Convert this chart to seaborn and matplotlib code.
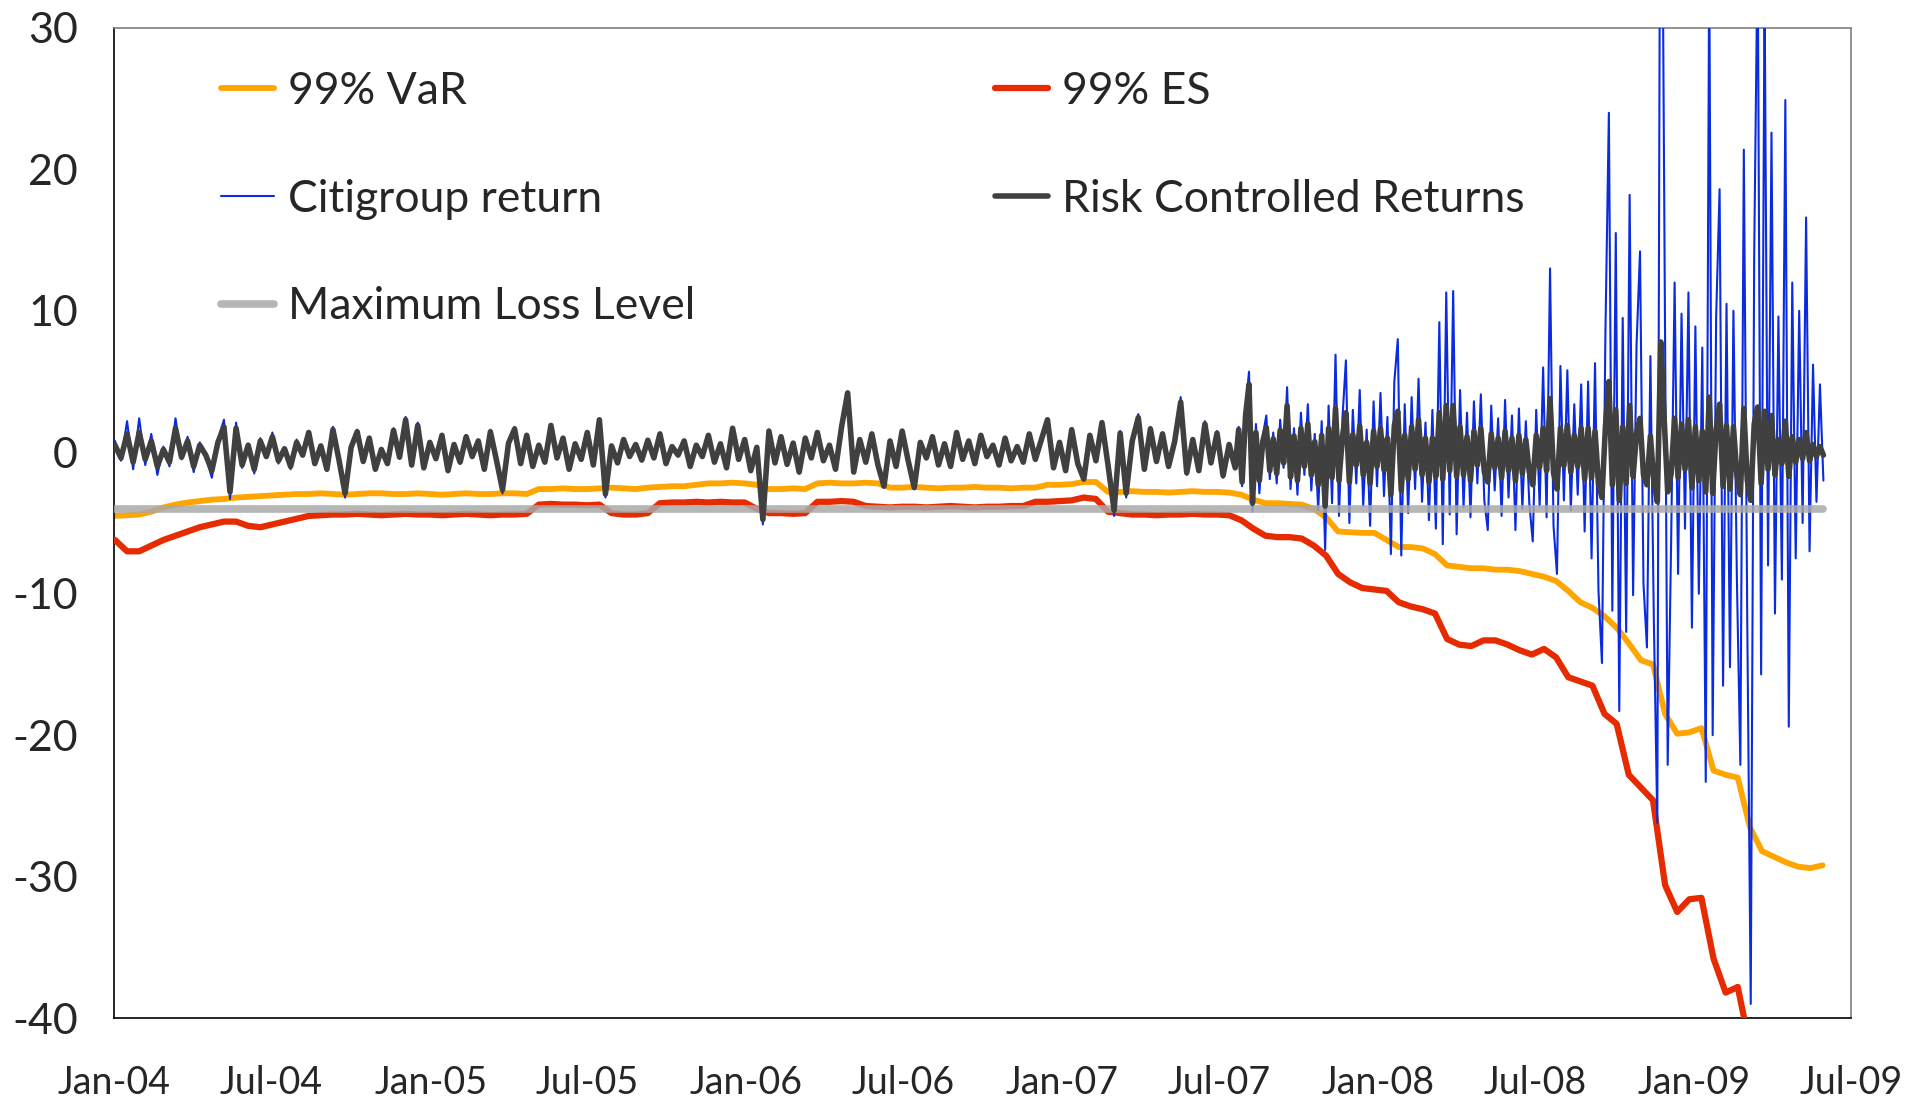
import matplotlib
matplotlib.use("Agg")
import matplotlib.pyplot as plt
import matplotlib.dates as mdates
import pandas as pd
import seaborn as sns

# weekly returns until late Jul-07, then every 4 days through the crisis
calm_dates = pd.date_range('2004-01-02', periods=186, freq='7D')
crisis_dates = pd.date_range('2007-07-24', periods=170, freq='4D')
return_dates = calm_dates.append(crisis_dates)

citi_calm = [
    0.8, -0.6, 2.2, -1.2, 2.4, -0.9, 1.3, -1.6, 0.4, -1.0,
    2.4, -0.5, 1.1, -1.4, 0.7, -0.3, -1.8, 0.9, 2.3, -3.3,
    2.1, -1.1, 0.6, -1.5, 1.0, -0.4, 1.4, -0.8, 0.3, -1.2,
    0.9, -0.2, 1.5, -0.9, 0.5, -1.3, 1.8, -0.6, -3.2, 0.4,
    1.6, -0.7, 1.1, -1.3, 0.2, -0.9, 1.7, -0.4, 2.5, -1.0,
    2.1, -1.2, 0.8, -0.5, 1.3, -1.4, 0.6, -0.8, 1.2, -0.3,
    0.9, -1.3, 1.6, -0.6, -2.9, 0.7, 1.8, -0.9, 1.3, -1.1,
    0.5, -0.7, 1.9, -0.4, 1.0, -1.2, 0.6, -0.5, 1.4, -0.9,
    2.3, -3.2, 0.5, -0.8, 1.0, -0.3, 0.6, -0.6, 0.9, -0.4,
    1.3, -0.8, 0.4, -0.2, 0.8, -1.0, 0.5, -0.3, 1.2, -0.7,
    0.6, -1.1, 1.7, -0.5, 0.9, -1.3, 0.4, -5.1, 1.6, -0.8,
    1.2, -0.9, 0.7, -1.5, 1.1, -0.4, 1.4, -0.6, 0.5, -1.2,
    1.8, 4.2, -1.4, 0.9, -0.7, 1.3, -0.9, -2.4, 0.8, -1.0,
    1.5, -0.6, -2.5, 0.7, -0.4, 1.1, -0.9, 0.6, -1.0, 1.4,
    -0.5, 0.8, -0.8, 1.2, -0.3, 0.5, -0.9, 1.0, -0.6, 0.4,
    -0.7, 1.3, -0.5, 0.9, 2.3, -1.1, 0.7, -1.3, 1.6, -0.8,
    -1.9, 1.2, -0.6, 2.1, -1.0, -4.5, 1.5, -3.2, 0.9, 2.7,
    -1.3, 1.8, -0.7, 1.4, -1.1, 0.8, 3.9, -1.6, 1.0, -1.4,
    2.2, -0.8, 1.5, -1.8, 0.6, -1.2,
]
citi_crisis = [
    1.8, -2.4, 3.1, 5.7, -4.2, 2.0, -2.9, 1.2, 2.6, -1.9,
    1.4, -2.2, 2.3, -1.1, 4.6, -2.6, 1.7, -3.0,
    2.8, -1.6, 3.4, -2.7, 1.3, -4.1, 2.2, -6.9,
    3.3, -3.6, 6.9, -4.5, 2.4, 6.5, -5.0,
    3.0, -2.2, 4.4, -3.8, 1.6, -5.2, 3.6, -2.4,
    4.2, -3.1, 2.5, -7.2, 5.0, 8.0, -7.3, 3.4,
    -4.3, 3.9, -2.6, 5.2, -3.5, 2.1, -4.8,
    3.0, -5.4, 9.2, -6.5, 11.3, -4.4, 11.4, -5.8,
    4.4, -3.9, 2.8, -4.6, 3.6, -2.2, 4.1, -3.4,
    -5.5, 3.3, -2.7, 2.4, -4.5, 3.7, -3.2,
    2.6, -5.5, 3.1, -4.0, 2.2, -3.6, -6.3, 3.0,
    -3.8, 6.0, -4.6, 13.0, -5.2, -8.6, 6.1, -3.4,
    5.8, -4.1, 3.4, -3.0, 4.8, -5.6, 5.0,
    -7.5, 6.3, -9.8, -14.9, 8.4, 24.0, -11.2, 15.5,
    -18.3, 9.5, -12.7, 18.2, -10.1, 7.6, 14.2, -9.3,
    -13.8, 6.8, -11.9, -26.2, 58.0, 17.6, -22.1,
    -6.2, 12.0, -8.6, 9.8, -5.4, 11.3, -12.4, 8.9,
    -10.0, 7.4, -23.3, 35.0, -20.0, 9.5, 18.6, -16.5,
    10.5, -15.2, 10.0, -9.0, -22.1, 21.4, -12.0,
    -39.0, 14.0, 36.0, -15.7, 33.0, -8.0, 22.6, -11.4,
    9.6, -9.0, 24.9, -19.4, 12.0, -7.5, 10.0, -5.0,
    16.6, -7.0, 6.2, -3.5, 4.8, -2.0,
]

risk_calm = [
    0.5, -0.4, 1.3, -0.7, 1.4, -0.5, 0.8, -1.0, 0.2,
    -0.7, 1.7, -0.35, 0.8, -1.0, 0.5, -0.2, -1.3,
    0.7, 1.8, -2.8, 1.7, -0.9, 0.5, -1.2, 0.8, -0.3, 1.1, -0.6, 0.25, -1.0, 0.7,
    -0.2, 1.4, -0.8, 0.45, -1.2, 1.6, -0.55, -2.9, 0.35,
    1.45, -0.65, 1.0, -1.2, 0.2, -0.8, 1.55, -0.35, 2.3, -0.9,
    1.9, -1.1, 0.7, -0.45, 1.2, -1.3, 0.55, -0.7, 1.1, -0.3,
    0.8, -1.2, 1.45, -0.55, -2.65, 0.65, 1.65, -0.8, 1.2, -1.0,
    0.5, -0.7, 1.9, -0.4, 1.0, -1.2, 0.6, -0.5, 1.4, -0.9, 2.3,
    -2.95, 0.45, -0.75, 0.9, -0.3, 0.55, -0.55, 0.85,
    -0.4, 1.3, -0.8, 0.4, -0.2, 0.8, -1.0, 0.5, -0.3, 1.2, -0.7, 0.6, -1.1, 1.7, -0.5, 0.9, -1.3,
    0.35, -4.75, 1.5, -0.75, 1.1, -0.85, 0.65, -1.4, 1.0,
    -0.4, 1.4, -0.6, 0.5, -1.2,
    1.8, 4.2, -1.4, 0.9, -0.7, 1.3, -0.9, -2.4, 0.8, -1.0,
    1.5, -0.6, -2.5, 0.7, -0.4, 1.1, -0.9, 0.6, -1.0, 1.4,
    -0.5, 0.8, -0.8, 1.2, -0.3, 0.5, -0.9, 1.0, -0.6, 0.4,
    -0.7, 1.3, -0.5, 0.9, 2.3, -1.1, 0.7, -1.3, 1.6, -0.8,
    -1.9, 1.2, -0.6, 2.1,
    -0.9, -4.1, 1.35, -2.9, 0.8, 2.45, -1.2, 1.65, -0.65, 1.3, -1.0,
    0.75, 3.55, -1.45, 0.9, -1.3, 2.0, -0.75, 1.35, -1.65, 0.55, -1.1,
]
risk_crisis = [
    1.6, -2.1, 2.6, 4.8, -3.6, 1.4, -2.0, 0.8, 1.75, -1.3,
    0.95, -1.5, 1.55, -0.75, 3.3, -1.75, 1.15, -2.0,
    1.7, -1.0, 2.0, -1.6, 0.75, -2.3, 1.2, -3.8,
    1.7, -1.8, 3.1, -2.0, 1.1, 2.8, -2.1,
    1.25, -0.9, 1.85, -1.6, 0.7, -2.2, 1.5, -1.0,
    1.7, -1.25, 1.0, -3.0, 1.9, 2.9, -2.7, 1.2,
    -1.9, 1.8, -1.2, 2.3, -1.6, 1.0, -2.1,
    1.0, -1.7, 2.8, -1.9, 3.3, -1.3, 3.3, -1.7,
    1.8, -1.6, 1.1, -2.0, 1.5, -0.9, 1.7, -1.4,
    -2.1, 1.3, -1.1, 1.0, -1.8, 1.5, -1.3,
    1.0, -2.0, 1.2, -1.5, 0.9, -1.4, -2.3, 1.2,
    -1.05, 1.7, -1.3, 3.8, -1.45, -2.6, 1.7, -0.95,
    1.9, -1.4, 1.2, -1.0, 1.7, -1.9, 1.7,
    -1.8, 1.5, -2.2, -3.2, 1.8, 5.0, -2.3, 3.0,
    -3.4, 1.8, -2.2, 3.3, -1.7, 1.3, 2.4, -1.6,
    -2.3, 1.15, -2.0, -3.5, 7.8, 2.3, -2.8,
    -1.5, 2.4, -1.8, 2.0, -1.2, 2.3, -2.5, 1.8,
    -2.0, 1.5, -2.8, 3.9, -2.9, 1.6, 3.4, -2.4,
    1.9, -2.6, 1.8, -1.6, -3.0, 3.1, -2.0,
    -3.4, 2.0, 3.2, -2.2, 2.9, -1.2, 2.6, -1.6,
    0.9, -0.8, 2.2, -1.7, 1.1, -0.7, 0.9, -0.45,
    1.4, -0.6, 0.55, -0.3, 0.4, -0.2,
]

# fortnightly risk measures
risk_dates = pd.date_range('2004-01-02', periods=142, freq='14D')
var_99 = [
    -4.5, -4.45, -4.4, -4.2, -3.9, -3.7, -3.55, -3.45, -3.35, -3.3,
    -3.2, -3.15, -3.1, -3.05, -3.0, -2.95,
    -2.95, -2.9, -2.95, -3.0, -2.95, -2.9, -2.9, -2.95, -2.95, -2.9,
    -2.95, -3.0, -2.95, -2.9, -2.95, -2.95, -2.9, -2.9, -2.95,
    -2.6,
    -2.6, -2.55, -2.6, -2.6, -2.55, -2.5, -2.55, -2.6, -2.5, -2.45, -2.4,
    -2.4, -2.3,
    -2.2, -2.2, -2.15, -2.2,
    -2.3,
    -2.6, -2.6, -2.55, -2.6,
    -2.2, -2.15, -2.2, -2.2, -2.15, -2.2,
    -2.5, -2.5, -2.45, -2.5, -2.55, -2.5, -2.5, -2.45, -2.5, -2.5, -2.55, -2.5, -2.5,
    -2.3, -2.3, -2.25,
    -2.1, -2.1,
    -2.8, -2.8, -2.75, -2.8, -2.8, -2.85, -2.8, -2.75, -2.8, -2.8, -2.85,
    -3.0, -3.35,
    -3.6, -3.6, -3.65, -3.7,
    -4.0, -4.6,
    -5.6, -5.65, -5.7, -5.7,
    -6.2,
    -6.7, -6.7, -6.8,
    -7.2,
    -8.0, -8.1, -8.2, -8.2, -8.3, -8.3, -8.4,
    -8.6, -8.8, -9.1, -9.8, -10.6, -11.0, -11.6, -12.4, -13.5, -14.7,
    -15.0, -18.5, -19.9, -19.8, -19.5, -22.5, -22.8, -23.0, -26.5, -28.2,
    -28.6, -29.0, -29.3, -29.4, -29.2,
]
es_99 = [
    -6.2, -7.0, -7.0, -6.6, -6.2, -5.9, -5.6, -5.3, -5.1, -4.9,
    -4.9, -5.2, -5.3, -5.1, -4.9, -4.7, -4.5, -4.45, -4.4,
    -4.4, -4.35, -4.4, -4.45, -4.4, -4.35, -4.4, -4.4, -4.45, -4.4,
    -4.35, -4.4, -4.45, -4.4, -4.4, -4.35,
    -3.7, -3.65, -3.7, -3.7, -3.75, -3.7,
    -4.3, -4.4, -4.4, -4.3,
    -3.6, -3.55, -3.55, -3.5, -3.55, -3.5, -3.55, -3.55,
    -4.0, -4.3, -4.3, -4.35, -4.3,
    -3.5, -3.5, -3.45, -3.5,
    -3.8, -3.85, -3.9, -3.85, -3.85, -3.9, -3.85, -3.8, -3.85, -3.9, -3.85, -3.85, -3.8, -3.8,
    -3.5, -3.5, -3.45, -3.4,
    -3.2, -3.3,
    -4.2, -4.3,
    -4.4, -4.4, -4.45, -4.4, -4.4, -4.35, -4.4, -4.4, -4.45,
    -4.8, -5.4, -5.9, -6.0, -6.0, -6.1, -6.6, -7.3, -8.6, -9.2,
    -9.6, -9.7, -9.8, -10.6, -10.9, -11.1, -11.4,
    -13.2, -13.6, -13.7, -13.3, -13.3, -13.6, -14.0, -14.3, -13.9, -14.5,
    -15.9, -16.2, -16.5, -18.5, -19.2, -22.8, -23.7, -24.6, -30.6, -32.5,
    -31.6, -31.5, -35.8, -38.2, -37.8, -42.0, -44.0, -45.0, -45.5, -46.0,
    -46.0, -46.0,
]

loss_dates = pd.to_datetime(['2004-01-02', '2009-05-29'])
max_loss = [-4.0, -4.0]

returns = pd.DataFrame({'date': return_dates,
                        'citi': citi_calm + citi_crisis,
                        'risk': risk_calm + risk_crisis})
measures = pd.DataFrame({'date': risk_dates, 'var': var_99, 'es': es_99})
loss = pd.DataFrame({'date': loss_dates, 'level': max_loss})

sns.set_style('white')
plt.rcParams['font.family'] = ['Lato', 'DejaVu Sans']
plt.rcParams['axes.unicode_minus'] = False

fig = plt.figure(figsize=(19.24, 11.09), dpi=100)
ax = fig.add_axes([0.0593, 0.082, 0.9028, 0.8928])

sns.lineplot(data=measures, x='date', y='var', ax=ax, color='#FFA500', lw=4.2, label='99% VaR', zorder=2)
sns.lineplot(data=measures, x='date', y='es', ax=ax, color='#E62B00', lw=4.5, label='99% ES', zorder=3)
sns.lineplot(data=returns, x='date', y='citi', ax=ax, color='#0A2BE0', lw=1.5, label='Citigroup return', zorder=4)
sns.lineplot(data=loss, x='date', y='level', ax=ax, color='#A9A9A9', lw=5.5, alpha=0.85, label='Maximum Loss Level', zorder=5)
sns.lineplot(data=returns, x='date', y='risk', ax=ax, color='#404040', lw=4.0, label='Risk Controlled Returns', zorder=6)

ax.set_xlim(pd.Timestamp('2004-01-01'), pd.Timestamp('2009-07-01'))
ax.set_ylim(-40, 30)
ax.set_yticks(range(-40, 31, 10))
ax.xaxis.set_major_locator(mdates.MonthLocator(bymonth=[1, 7]))
ax.xaxis.set_major_formatter(mdates.DateFormatter('%b-%y'))
ax.set_xlabel('')
ax.set_ylabel('')

ax.tick_params(axis='both', direction='in', length=10, width=1, color='black')
ax.tick_params(axis='x', labelsize=27, pad=34)
ax.tick_params(axis='y', labelsize=31, pad=26)

for side in ['left', 'bottom']:
    ax.spines[side].set_color('black')
    ax.spines[side].set_linewidth(1.2)
for side in ['top', 'right']:
    ax.spines[side].set_color('#808080')
    ax.spines[side].set_linewidth(1.2)

handles, labels = ax.get_legend_handles_labels()
lookup = dict(zip(labels, handles))
ax.get_legend().remove()

left_names = ['99% VaR', 'Citigroup return', 'Maximum Loss Level']
right_names = ['99% ES', 'Risk Controlled Returns']
legend_style = dict(loc='upper left', frameon=False, fontsize=32, handlelength=1.2,
                    handletextpad=0.3, labelspacing=1.5, borderpad=0, borderaxespad=0)
fig.legend([lookup[n] for n in left_names], left_names,
           bbox_to_anchor=(221 / 1924, 0.936), **legend_style)
fig.legend([lookup[n] for n in right_names], right_names,
           bbox_to_anchor=(995 / 1924, 0.936), **legend_style)

fig.savefig('out.png', dpi=100)
